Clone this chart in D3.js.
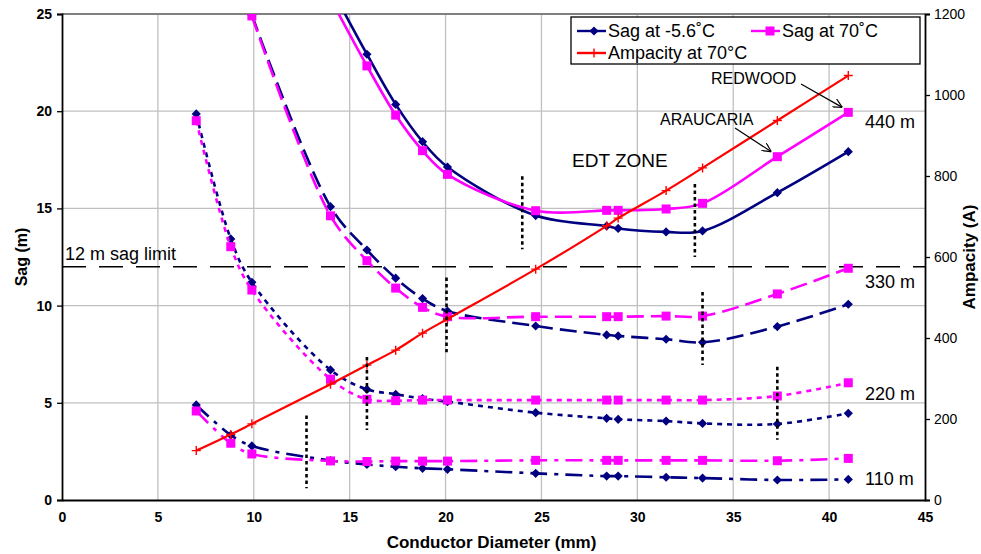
<!DOCTYPE html>
<html>
<head>
<meta charset="utf-8">
<script src="https://cdn.jsdelivr.net/npm/d3@7"></script>
<style>
  html, body { margin: 0; padding: 0; background: #fff; }
  svg { display: block; font-family: "Liberation Sans", Arial, sans-serif; }
</style>
</head>
<body>
<div id="chart"></div>
<script>
// ---- data ----
const diameters = [7.0, 8.8, 9.9, 14.0, 15.9, 17.4, 18.8, 20.1, 24.7, 28.4, 29.0, 31.5, 33.4, 37.3, 41.0];
const ampacity  = [122, 162, 188, 286, 333, 370, 412, 447, 570, 677, 696, 764, 820, 937, 1048];

// sag at -5.6 C (cold) and 70 C (hot) per ruling span; null = no point
const sag440Cold = [null, null, null, 26.4, 22.93, 20.35, 18.43, 17.13, 14.63, 14.09, 13.97, 13.79, 13.84, 15.81, 17.92];
const sag440Hot  = [null, null, null, 25.8, 22.33, 19.80, 17.97, 16.75, 14.88, 14.90, 14.90, 14.97, 15.26, 17.66, 19.94];
const sag330Cold = [null, null, 24.95, 15.09, 12.86, 11.41, 10.36, 9.72, 8.95, 8.49, 8.44, 8.27, 8.11, 8.92, 10.07];
const sag330Hot  = [null, null, 24.90, 14.62, 12.31, 10.90, 9.91, 9.43, 9.43, 9.43, 9.43, 9.46, 9.46, 10.60, 11.92];
const sag220Cold = [19.86, 13.43, 11.20, 6.69, 5.69, 5.44, 5.21, 5.06, 4.49, 4.20, 4.15, 4.06, 3.94, 3.91, 4.46];
const sag220Hot  = [19.51, 13.03, 10.80, 6.22, 5.18, 5.11, 5.14, 5.14, 5.14, 5.14, 5.14, 5.14, 5.14, 5.35, 6.03];
const sag110Cold = [4.89, 3.34, 2.78, 2.03, 1.83, 1.71, 1.63, 1.58, 1.37, 1.23, 1.23, 1.17, 1.13, 1.03, 1.06];
const sag110Hot  = [4.58, 2.92, 2.37, 2.01, 1.98, 2.00, 2.00, 2.00, 2.04, 2.04, 2.04, 2.04, 2.04, 2.02, 2.14];

// EDT zone bounds (vertical dotted markers)
const edtDiam = [24.0, 33.0, 20.05, 33.4, 15.9, 37.3, 12.75];
const edtLow  = [12.9, 12.5, 7.6, 6.95, 3.6, 3.1, 0.6];
const edtHigh = [16.65, 16.25, 11.45, 10.7, 7.35, 6.85, 4.35];

const spanNames = ["440 m", "330 m", "220 m", "110 m"];
const spanLabelSag = [19.15, 10.9, 5.15, 0.77];   // baseline level of each label

const xTicks = [0, 5, 10, 15, 20, 25, 30, 35, 40, 45];
const sagTicks = [0, 5, 10, 15, 20, 25];
const ampTicks = [0, 200, 400, 600, 800, 1000, 1200];
const sagLimit = 12;

// ---- layout ----
const W = 981, H = 554;
const M = { left: 62, right: 56, top: 14, bottom: 54 };
const NAVY = "#000080", MAG = "#FF00FF", RED = "#FF0000", GRID = "#c0c0c0";

const x = d3.scaleLinear().domain([0, 45]).range([M.left, W - M.right]);
const y = d3.scaleLinear().domain([0, 25]).range([H - M.bottom, M.top]);
const yA = d3.scaleLinear().domain([0, 1200]).range([H - M.bottom, M.top]);

const svg = d3.select("#chart").append("svg")
  .attr("width", W).attr("height", H)
  .attr("viewBox", `0 0 ${W} ${H}`);

const defs = svg.append("defs");
defs.append("clipPath").attr("id", "plot-clip")
  .append("rect")
  .attr("x", M.left).attr("y", M.top)
  .attr("width", W - M.left - M.right).attr("height", H - M.top - M.bottom);

// grid
const grid = svg.append("g");
grid.selectAll(".vg").data(xTicks.slice(1, -1)).enter().append("line")
  .attr("x1", d => x(d)).attr("x2", d => x(d))
  .attr("y1", M.top).attr("y2", H - M.bottom)
  .attr("stroke", GRID).attr("stroke-width", 1.3);
grid.selectAll(".hg").data(sagTicks.slice(1, -1)).enter().append("line")
  .attr("x1", M.left).attr("x2", W - M.right)
  .attr("y1", d => y(d)).attr("y2", d => y(d))
  .attr("stroke", GRID).attr("stroke-width", 1.3);
// top border
svg.append("line")
  .attr("x1", M.left).attr("x2", W - M.right)
  .attr("y1", M.top).attr("y2", M.top)
  .attr("stroke", "#808080").attr("stroke-width", 2);

// 12 m sag limit
svg.append("line")
  .attr("x1", M.left).attr("x2", W - M.right)
  .attr("y1", y(sagLimit)).attr("y2", y(sagLimit))
  .attr("stroke", "#000").attr("stroke-width", 1.5)
  .attr("stroke-dasharray", "24,13");
svg.append("text")
  .attr("x", 65).attr("y", y(sagLimit) - 7)
  .attr("font-size", 18).attr("fill", "#000")
  .text("12 m sag limit");

// ---- series ----
const plot = svg.append("g").attr("clip-path", "url(#plot-clip)");
const line = d3.line()
  .x(d => x(d[0])).y(d => y(d[1]))
  .curve(d3.curveCatmullRom.alpha(0.5));

const diamondPath = r => `M0,${-r}L${r},0L0,${r}L${-r},0Z`;

const spans = [
  { cold: sag440Cold, hot: sag440Hot, dash: null },
  { cold: sag330Cold, hot: sag330Hot, dash: "17,7" },
  { cold: sag220Cold, hot: sag220Hot, dash: "5,5" },
  { cold: sag110Cold, hot: sag110Hot, dash: "17,7,4,7" }
];

function drawSeries(vals, color, dash, marker) {
  const pts = diameters.map((d, i) => [d, vals[i]]).filter(p => p[1] != null);
  plot.append("path")
    .datum(pts)
    .attr("d", line)
    .attr("fill", "none")
    .attr("stroke", color)
    .attr("stroke-width", 2.6)
    .attr("stroke-dasharray", dash);
  const mk = plot.append("g");
  if (marker === "diamond") {
    mk.selectAll("path").data(pts).enter().append("path")
      .attr("d", diamondPath(4.6))
      .attr("transform", d => `translate(${x(d[0])},${y(d[1])})`)
      .attr("fill", color);
  } else {
    mk.selectAll("rect").data(pts).enter().append("rect")
      .attr("x", d => x(d[0]) - 4.5).attr("y", d => y(d[1]) - 4.5)
      .attr("width", 9).attr("height", 9)
      .attr("fill", color);
  }
}

spans.forEach(s => drawSeries(s.cold, NAVY, s.dash, "diamond"));
spans.forEach(s => drawSeries(s.hot, MAG, s.dash, "square"));

// ampacity
const ampPts = diameters.map((d, i) => [d, ampacity[i]]);
plot.append("path")
  .datum(ampPts)
  .attr("d", d3.line().x(d => x(d[0])).y(d => yA(d[1])).curve(d3.curveCatmullRom.alpha(0.5)))
  .attr("fill", "none").attr("stroke", RED).attr("stroke-width", 2.2);
plot.append("g").selectAll("path").data(ampPts).enter().append("path")
  .attr("d", "M-4.5,0H4.5M0,-4.5V4.5")
  .attr("transform", d => `translate(${x(d[0])},${yA(d[1])})`)
  .attr("stroke", RED).attr("stroke-width", 1.4);

// EDT zone markers
svg.append("g").selectAll("line").data(edtDiam).enter().append("line")
  .attr("x1", d => x(d)).attr("x2", d => x(d))
  .attr("y1", (d, i) => y(edtHigh[i])).attr("y2", (d, i) => y(edtLow[i]))
  .attr("stroke", "#000").attr("stroke-width", 2.6)
  .attr("stroke-dasharray", "3.5,3");

// ---- axes ----
const axL = svg.append("g").attr("transform", `translate(${M.left},0)`)
  .call(d3.axisLeft(y).tickValues(sagTicks).tickSize(5).tickPadding(5));
const axR = svg.append("g").attr("transform", `translate(${W - M.right},0)`)
  .call(d3.axisRight(yA).tickValues(ampTicks).tickFormat(d3.format("d")).tickSize(5).tickPadding(4));
const axB = svg.append("g").attr("transform", `translate(0,${H - M.bottom})`)
  .call(d3.axisBottom(x).tickValues(xTicks).tickSize(0).tickPadding(12));

[axL, axR, axB].forEach(a => {
  a.select(".domain").attr("stroke", "#000").attr("stroke-width", 1.8);
  a.selectAll(".tick line").attr("stroke", "#000").attr("stroke-width", 1.3);
  a.selectAll(".tick text").attr("fill", "#000").attr("font-family", "Liberation Sans, Arial, sans-serif");
});
axL.selectAll(".tick text").attr("font-size", 14).attr("font-weight", "bold");
axB.selectAll(".tick text").attr("font-size", 14).attr("font-weight", "bold");
axR.selectAll(".tick text").attr("font-size", 14);

// axis titles
svg.append("text")
  .attr("transform", `translate(27,${(M.top + H - M.bottom) / 2}) rotate(-90)`)
  .attr("text-anchor", "middle").attr("font-size", 16).attr("font-weight", "bold")
  .text("Sag (m)");
svg.append("text")
  .attr("transform", `translate(975,${(M.top + H - M.bottom) / 2}) rotate(-90)`)
  .attr("text-anchor", "middle").attr("font-size", 17).attr("font-weight", "bold")
  .text("Ampacity (A)");
svg.append("text")
  .attr("x", (M.left + W - M.right) / 2 - 2).attr("y", 548)
  .attr("text-anchor", "middle").attr("font-size", 17).attr("font-weight", "bold")
  .text("Conductor Diameter (mm)");

// span labels
svg.append("g").selectAll("text").data(spanNames).enter().append("text")
  .attr("x", 865).attr("y", (d, i) => y(spanLabelSag[i]))
  .attr("font-size", 18).attr("fill", "#000")
  .text(d => d);

// annotations
svg.append("text").attr("x", 572).attr("y", 167)
  .attr("font-size", 19).text("EDT ZONE");
svg.append("text").attr("x", 711).attr("y", 84)
  .attr("font-size", 16).text("REDWOOD");
svg.append("text").attr("x", 660).attr("y", 125)
  .attr("font-size", 16).text("ARAUCARIA");

defs.append("marker").attr("id", "arr")
  .attr("viewBox", "0 0 10 10").attr("refX", 10).attr("refY", 5)
  .attr("markerWidth", 9).attr("markerHeight", 9)
  .attr("markerUnits", "userSpaceOnUse")
  .attr("orient", "auto")
  .append("path").attr("d", "M0,0L10,5L0,10").attr("fill", "none").attr("stroke", "#000").attr("stroke-width", 1.3);
svg.append("line").attr("x1", 801).attr("y1", 84).attr("x2", x(41.0) - 6).attr("y2", y(sag440Hot[14]) - 5)
  .attr("stroke", "#000").attr("stroke-width", 1.2).attr("marker-end", "url(#arr)");
svg.append("line").attr("x1", 735).attr("y1", 128).attr("x2", x(37.3) - 6).attr("y2", y(sag440Hot[13]) - 5)
  .attr("stroke", "#000").attr("stroke-width", 1.2).attr("marker-end", "url(#arr)");

// ---- legend ----
const lg = svg.append("g");
lg.append("rect").attr("x", 571).attr("y", 17).attr("width", 349).attr("height", 47)
  .attr("fill", "#fff").attr("stroke", "#000").attr("stroke-width", 1.3);
const legendItems = [
  { label: "Sag at -5.6˚C", color: NAVY, mk: "diamond", lx: 577, ly: 31 },
  { label: "Sag at 70˚C", color: MAG, mk: "square", lx: 751, ly: 31 },
  { label: "Ampacity at 70°C", color: RED, mk: "plus", lx: 577, ly: 53 }
];
legendItems.forEach(it => {
  lg.append("line").attr("x1", it.lx).attr("x2", it.lx + 29)
    .attr("y1", it.ly).attr("y2", it.ly)
    .attr("stroke", it.color).attr("stroke-width", 2.4);
  const cx = it.lx + 17, cy = it.ly;
  if (it.mk === "diamond") {
    lg.append("path").attr("d", diamondPath(4.6)).attr("transform", `translate(${cx},${cy})`).attr("fill", it.color);
  } else if (it.mk === "square") {
    lg.append("rect").attr("x", cx + 2 - 4.5).attr("y", cy - 4.5).attr("width", 9).attr("height", 9).attr("fill", it.color);
  } else {
    lg.append("path").attr("d", "M-4.5,0H4.5M0,-4.5V4.5").attr("transform", `translate(${cx},${cy})`)
      .attr("stroke", it.color).attr("stroke-width", 1.4);
  }
  lg.append("text").attr("x", it.lx + 31).attr("y", it.ly + 6)
    .attr("font-size", 18).text(it.label);
});
</script>
</body>
</html>
